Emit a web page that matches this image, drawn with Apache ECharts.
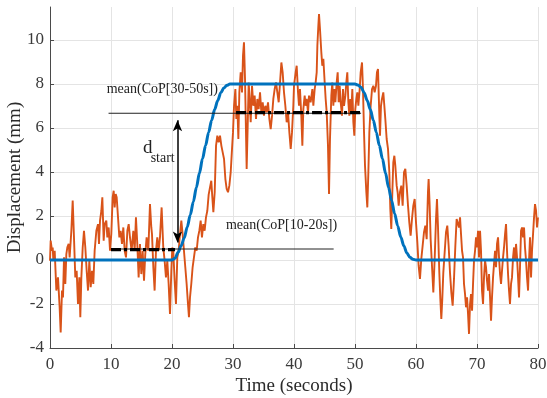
<!DOCTYPE html>
<html><head><meta charset="utf-8">
<script src="https://cdn.jsdelivr.net/npm/echarts@6/dist/echarts.min.js"></script>
<style>html,body{margin:0;padding:0;background:#fff}#c{width:547px;height:398px}</style>
</head><body><div id="c"></div>
<script>
const xTicks = [0,10,20,30,40,50,60,70,80];
const yTicks = [-4,-2,0,2,4,6,8,10];

const orangeT = [0,0.11,0.33,0.44,0.55,0.77,1.04,1.31,1.58,1.75,1.97,2.13,2.3,2.51,2.68,2.84,3.06,3.22,3.5,3.72,3.93,4.15,4.37,4.59,4.81,4.97,5.14,5.36,5.57,5.79,6.01,6.23,6.45,6.67,6.89,7.1,7.32,7.6,7.87,8.03,8.2,8.42,8.58,8.8,8.96,9.23,9.4,9.62,9.84,10.05,10.27,10.44,10.6,10.77,10.93,11.15,11.37,11.58,11.8,12.02,12.24,12.46,12.68,12.9,13.11,13.38,13.66,13.88,14.09,14.31,14.53,14.75,14.97,15.19,15.41,15.62,15.84,16.12,16.39,16.61,16.72,16.94,17.15,17.37,17.59,17.81,18.03,18.3,18.57,18.79,19.01,19.23,19.45,19.67,19.89,20.05,20.21,20.43,20.65,20.87,21.09,21.31,21.53,21.74,21.96,22.18,22.4,22.62,22.78,22.95,23.16,23.38,23.6,23.82,24.04,24.26,24.48,24.7,24.91,25.13,25.35,25.57,25.79,26.01,26.23,26.44,26.6,26.78,27.0,27.22,27.43,27.65,27.87,28.09,28.31,28.53,28.75,28.96,29.18,29.4,29.62,29.84,30.0,30.17,30.39,30.55,30.71,30.88,31.04,31.26,31.48,31.64,31.8,31.97,32.13,32.24,32.41,32.57,32.73,32.9,33.12,33.34,33.55,33.77,33.99,34.21,34.43,34.65,34.87,35.08,35.3,35.52,35.74,35.96,36.18,36.4,36.61,36.83,37.05,37.27,37.49,37.71,37.93,38.14,38.36,38.58,38.8,39.02,39.24,39.46,39.67,39.89,40.0,40.27,40.44,40.66,40.82,40.98,41.2,41.37,41.53,41.75,41.91,42.08,42.3,42.46,42.73,43.01,43.17,43.39,43.55,43.72,43.83,43.99,44.1,44.26,44.48,44.64,44.81,45.03,45.19,45.36,45.57,45.74,45.9,46.12,46.28,46.45,46.61,46.78,47.0,47.16,47.32,47.49,47.65,47.87,48.03,48.2,48.42,48.58,48.74,48.91,49.07,49.23,49.4,49.56,49.73,49.89,50.05,50.22,50.38,50.55,50.77,50.93,51.15,51.31,51.48,51.64,51.86,52.02,52.19,52.35,52.57,52.79,53.01,53.22,53.44,53.6,53.77,53.88,53.99,54.1,54.26,54.42,54.64,54.81,54.97,55.19,55.41,55.63,55.79,55.95,56.12,56.28,56.45,56.61,56.83,56.99,57.16,57.37,57.59,57.81,58.03,58.25,58.47,58.69,58.9,59.12,59.34,59.56,59.78,60.0,60.22,60.43,60.65,60.87,61.09,61.31,61.53,61.75,61.96,62.07,62.24,62.4,62.62,62.84,63.06,63.28,63.44,63.6,63.82,63.99,64.15,64.31,64.48,64.7,64.92,65.13,65.35,65.57,65.79,66.01,66.23,66.45,66.66,66.89,67.05,67.22,67.38,67.55,67.71,67.87,68.04,68.2,68.37,68.53,68.69,68.86,69.02,69.19,69.35,69.51,69.68,69.84,70.0,70.17,70.33,70.5,70.66,70.82,70.99,71.15,71.32,71.48,71.64,71.81,71.97,72.14,72.3,72.46,72.63,72.79,72.96,73.12,73.28,73.45,73.61,73.78,73.94,74.1,74.27,74.43,74.6,74.76,74.92,75.09,75.25,75.41,75.58,75.74,75.91,76.07,76.23,76.4,76.56,76.73,76.89,77.05,77.22,77.38,77.55,77.71,77.87,78.04,78.2,78.37,78.53,78.69,78.86,79.02,79.19,79.35,79.51,79.68,79.84,80.0];
const orangeY = [-0.03,0.88,0.42,0.57,-0.03,0.42,-1.39,-0.79,-2.15,-3.29,-1.39,-1.7,0.12,-1.09,0.27,0.57,0.73,0.12,1.33,2.7,1.03,-0.79,-0.49,-2.0,-0.79,-2.6,-0.79,0.57,1.33,0.57,-0.49,-1.39,-0.03,-1.24,-0.49,-1.09,0.42,1.33,1.63,0.73,1.79,2.24,2.85,0.88,1.63,1.79,1.03,1.48,0.42,1.18,2.85,3.15,2.39,3.0,2.85,1.94,1.03,1.33,0.73,1.48,0.42,0.12,1.33,1.63,1.03,0.42,1.33,0.42,1.94,0.73,-0.79,0.73,-0.64,0.42,-0.94,0.27,1.03,0.42,2.54,1.48,1.18,-0.33,-1.39,0.42,1.03,0.42,1.03,2.39,0.57,-0.03,-0.79,-0.03,-1.09,-2.45,-0.49,0.57,0.42,-0.94,-2.0,0.12,0.42,1.18,1.79,1.18,0.42,-0.33,-1.09,-2.0,-2.6,-1.7,-1.09,-0.33,0.12,0.57,0.42,1.03,1.33,1.79,1.03,1.63,1.33,1.94,2.24,2.97,3.3,3.6,2.9,2.17,3.08,5.2,5.65,5.35,5.65,5.2,4.89,4.59,3.68,3.23,3.08,3.38,3.98,5.05,5.8,7.01,7.77,6.41,7.01,5.5,7.62,8.53,7.62,9.29,9.9,8.23,5.8,4.14,6.11,8.07,7.32,6.26,7.92,7.01,7.47,6.41,7.32,6.86,7.62,6.71,7.17,6.56,7.01,6.71,7.17,6.41,5.95,6.56,7.32,7.77,8.07,7.62,7.17,8.07,8.98,8.53,7.62,7.01,6.26,6.71,5.8,5.05,5.8,7.01,7.92,8.53,8.83,7.62,7.01,7.77,6.56,5.2,6.86,7.47,7.01,7.32,6.71,7.47,7.17,7.77,7.01,7.77,8.07,8.53,9.74,10.65,11.18,10.5,9.44,8.83,9.14,8.07,7.32,6.71,5.2,3.0,5.5,7.47,8.07,7.01,7.77,7.17,8.07,8.53,7.17,7.92,7.17,6.56,7.77,7.01,7.47,8.07,8.53,7.17,6.56,7.32,6.71,7.77,6.26,5.65,6.86,7.32,7.62,7.01,7.77,8.53,8.98,7.77,5.8,4.29,3.08,2.39,3.98,5.8,7.01,7.77,7.92,7.62,7.92,8.53,8.68,7.62,6.56,5.65,7.01,7.32,7.62,7.01,6.41,5.5,5.05,3.98,2.32,1.41,3.08,4.44,4.74,4.29,3.38,3.08,2.47,3.08,3.38,2.47,3.98,4.14,3.38,2.47,1.71,1.11,1.86,2.47,2.77,1.71,0.8,-0.26,-0.86,0.05,0.65,1.26,1.56,0.95,3.08,3.68,2.47,0.95,-0.26,-1.47,0.05,1.86,2.77,1.56,-0.56,-1.77,-2.68,-1.77,-0.56,0.35,1.26,1.56,0.65,-0.56,-1.47,-2.08,-0.86,0.65,1.86,1.94,1.48,1.94,1.18,0.42,0.12,-1.09,-1.55,-2.15,-1.7,-2.45,-3.36,-2.0,-1.55,-2.3,-1.09,-0.03,0.42,1.03,0.57,1.33,0.12,1.33,0.42,-1.39,-2.0,-0.79,-0.03,-0.33,-0.94,-1.39,-0.64,-1.7,-2.76,-1.7,-0.79,-0.18,0.42,-0.33,0.73,1.03,0.12,-0.64,-1.09,-0.49,0.12,0.57,1.18,1.63,0.42,-0.64,-1.39,-2.0,-1.09,-0.79,0.12,0.57,-0.03,0.73,0.12,-0.79,-1.7,-0.33,1.33,1.48,1.03,1.48,0.57,-0.03,-0.79,-1.39,-0.03,1.03,-0.79,0.42,1.18,1.94,2.54,2.24,1.48,1.94];

const blueT = [0,20,20.5,21,21.5,22,22.5,23,23.5,24,24.5,25,25.5,26,26.5,27,27.5,28,28.5,29,29.5,30,50,50.5,51,51.5,52,52.5,53,53.5,54,54.5,55,55.5,56,56.5,57,57.5,58,58.5,59,59.5,60,80];
const blueY = [0,0,0.08,0.35,0.65,1.0,1.5,2.05,2.65,3.3,3.95,4.6,5.2,5.8,6.35,6.85,7.25,7.6,7.82,7.94,8.0,8.0,8.0,7.95,7.85,7.6,7.25,6.85,6.35,5.8,5.2,4.6,3.95,3.3,2.7,2.1,1.55,1.05,0.65,0.32,0.12,0.03,0,0];

const meanLowX = [10, 20.5];   const meanLowY = 0.47;
const meanHighX = [30.5, 51];  const meanHighY = 6.7;
const refHighX = [9.6, 51];    const refHighY = 6.67;
const refLowX = [10, 46.5];    const refLowY = 0.5;
const arrowX = 20.9;           const arrowY = [0.8, 6.35];

const labelTexts = ['mean(CoP[30-50s])', 'mean(CoP[10-20s])', 'd', 'start'];
const labelAnchors = [[9.3, 7.78], [28.85, 1.56], [15.25, 4.66], [16.5, 4.3]];

const FONT = "'Liberation Serif', 'DejaVu Serif', serif";
const zip = (a, b) => a.map((v, i) => [v, b[i]]);

const chart = echarts.init(document.getElementById('c'), null, {renderer: 'canvas'});
chart.setOption({
  animation: false,
  backgroundColor: '#fff',
  grid: {left: 50, right: 9, top: 7, bottom: 50, containLabel: false, outerBoundsMode: 'none'},
  xAxis: {
    type: 'value', min: 0, max: 80, interval: 10,
    name: 'Time (seconds)', nameLocation: 'middle', nameGap: 29, nameMoveOverlap: false,
    nameTextStyle: {fontFamily: FONT, fontSize: 19, color: '#2b2b2b'},
    axisLine: {onZero: false, lineStyle: {color: '#4a4a4a', width: 1}},
    axisTick: {inside: true, length: 4, lineStyle: {color: '#4a4a4a'}},
    axisLabel: {fontFamily: FONT, fontSize: 17, color: '#3a3a3a', margin: 8},
    splitLine: {show: true, lineStyle: {color: '#e4e4e4', width: 1}}
  },
  yAxis: {
    type: 'value', min: -4, max: 11.5, interval: 2,
    name: 'Displacement (mm)', nameLocation: 'middle', nameGap: 25, nameMoveOverlap: false,
    nameTextStyle: {fontFamily: FONT, fontSize: 19, color: '#2b2b2b'},
    axisLine: {onZero: false, lineStyle: {color: '#4a4a4a', width: 1}},
    axisTick: {inside: true, length: 4, customValues: yTicks, lineStyle: {color: '#4a4a4a'}},
    axisLabel: {fontFamily: FONT, fontSize: 17, color: '#3a3a3a', margin: 6,
      customValues: yTicks, formatter: v => (yTicks.indexOf(v) >= 0 ? String(v) : '')},
    splitLine: {show: false}
  },
  series: [
    {
      type: 'line', data: [], z: 0, zlevel: 0, silent: true,
      markLine: {
        silent: true, symbol: 'none', animation: false, z: 0,
        label: {show: false},
        lineStyle: {color: '#e4e4e4', width: 1, type: 'solid'},
        data: yTicks.filter(v => v > -4).map(v => ({yAxis: v}))
      }
    },
    {
      type: 'line', data: zip(orangeT, orangeY), showSymbol: false, z: 2,
      lineStyle: {color: '#D95319', width: 1.9}, sampling: null
    },
    {
      type: 'line', data: zip(blueT, blueY), showSymbol: false, z: 3,
      smooth: 0.3, smoothMonotone: 'x',
      lineStyle: {color: '#0072BD', width: 3}
    },
    {
      type: 'line', data: refHighX.map(x => [x, refHighY]), showSymbol: false, z: 4,
      lineStyle: {color: '#222', width: 1}
    },
    {
      type: 'line', data: refLowX.map(x => [x, refLowY]), showSymbol: false, z: 4,
      lineStyle: {color: '#222', width: 1}
    },
    {
      type: 'line', data: meanLowX.map(x => [x, meanLowY]), showSymbol: false, z: 5,
      lineStyle: {color: '#000', width: 3.2, type: [10, 3, 3, 3]}
    },
    {
      type: 'line', data: meanHighX.map(x => [x, meanHighY]), showSymbol: false, z: 5,
      lineStyle: {color: '#000', width: 3.2, type: [10, 3, 3, 3]}
    },
    {
      type: 'line', data: [], z: 6,
      markLine: {
        silent: true, animation: false, symbol: ['arrow', 'arrow'], symbolSize: [7, 11],
        label: {show: false}, z: 6,
        lineStyle: {color: '#000', width: 1.5, type: 'solid'},
        data: [[{coord: [arrowX, arrowY[0]]}, {coord: [arrowX, arrowY[1]]}]]
      }
    }
  ]
});

const sizes = [14, 14, 19, 14];
const graphics = labelTexts.map((t, i) => {
  const p = chart.convertToPixel({gridIndex: 0}, labelAnchors[i]);
  return {
    type: 'text', x: p[0], y: p[1], z: 100,
    style: {text: t, font: sizes[i] + "px " + FONT, fill: '#222',
      textAlign: 'left', textVerticalAlign: i < 2 ? 'middle' : 'bottom'}
  };
});
chart.setOption({graphic: graphics});
</script>
</body></html>
